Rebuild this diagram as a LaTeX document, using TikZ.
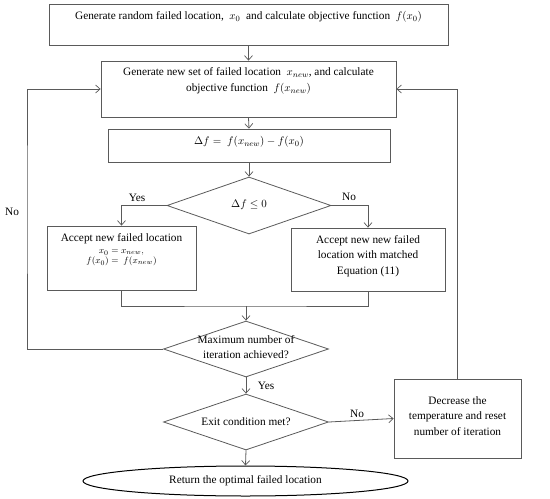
\documentclass[tikz,border=0pt]{standalone}
\usepackage{fontspec}
\setmainfont{Liberation Serif}
\usetikzlibrary{shapes.geometric,arrows.meta}
\definecolor{linegray}{HTML}{5A5A5A}
\begin{document}
\begin{tikzpicture}[x=1pt,y=-1pt,
  font=\fontsize{11.3}{15.5}\selectfont,
  box/.style={draw=linegray,line width=0.8pt,rectangle,inner sep=0pt},
  dia/.style={draw=linegray,line width=0.8pt,diamond,inner sep=0pt},
  txt/.style={align=center,inner sep=0pt},
  ln/.style={draw=linegray,line width=0.8pt},
  arr/.style={ln,-{Straight Barb[length=4.5pt,width=8pt,line width=0.7pt]}},
  lbl/.style={inner sep=0pt}]
\useasboundingbox (0,0) rectangle (550,499);
% boxes
\node[box,minimum width=399pt,minimum height=41pt] (b1) at (248.5,24.5) {};
\node[txt] (t1) at (248.5,17) {Generate random failed location,\ \ $x_0$\ \ and calculate objective function\ \ $f(x_0)$};
\node[box,minimum width=295pt,minimum height=56pt] (b2) at (248.5,89) {};
\node[txt] (t2) at (248.5,81) {Generate new set of failed location\ \ $x_{new}$, and calculate\\objective function\ \ $f(x_{new})$};
\node[box,minimum width=282pt,minimum height=33pt] (b3) at (249,145.5) {};
\node[txt] (t3) at (249,142) {$\Delta f =\ f(x_{new}) - f(x_0)$};
\node[dia,minimum width=164pt,minimum height=57pt] (d1) at (249,205.5) {};
\node[txt] (td1) at (249,205) {$\Delta f \le 0$};
\node[box,minimum width=149pt,minimum height=64pt] (b4) at (121.5,258) {};
\node[txt] (t4a) at (121.5,239) {Accept new failed location};
\node[txt,font=\fontsize{9.5}{10}\selectfont] (t4b) at (121.5,258) {$x_0 = x_{new},$\\$f(x_0) =\ f(x_{new})$};
\node[box,minimum width=154pt,minimum height=63pt] (b5) at (368,259.5) {};
\node[txt] (t5) at (368,256) {Accept new new failed\\location with matched\\Equation (11)};
\coordinate (jn) at (246,306);
\node[dia,minimum width=165pt,minimum height=56pt] (d2) at (246,349) {};
\node[txt] (td2) at (246,347) {Maximum number of\\iteration achieved?};
\node[dia,minimum width=165pt,minimum height=56pt] (d3) at (246,422) {};
\node[txt] (td3) at (246,422) {Exit condition met?};
\node[box,minimum width=127pt,minimum height=79pt] (b6) at (457.5,418.5) {};
\node[txt] (t6) at (457.5,416) {Decrease the\\temperature and reset\\number of iteration};
\node[draw=black,line width=1pt,ellipse,minimum width=325pt,minimum height=30pt,inner sep=0pt] (e) at (245.5,481) {Return the optimal failed location};
\coordinate (lc) at (27,200);
% connectors
\draw[arr] (b1.south) -- (b2.north);
\draw[arr] (b2.south) -- (b3.north);
\draw[arr] (b3.south) -- (d1.north);
\draw[arr] (d1.west) -| (b4.north);
\draw[arr] (d1.east) -| (b5.north);
\draw[ln] (b4.south) |- (jn) -| (b5.south);
\draw[arr] (jn) -- (d2.north);
\draw[arr] (d2.west) -| (lc) |- (b2.west);
\draw[arr] (b6.north) |- (b2.east);
\draw[arr] (d2.south) -- (d3.north);
\draw[arr] (d3.east) -- (b6.west);
\draw[arr] (d3.south) -- (e.north);
% labels
\node[lbl] (yes1) at (137,198) {Yes};
\node[lbl] (no1) at (349,197) {No};
\node[lbl] (no2) at (12,212) {No};
\node[lbl] (yes2) at (266,386) {Yes};
\node[lbl] (no3) at (357,414) {No};
\end{tikzpicture}
\end{document}
